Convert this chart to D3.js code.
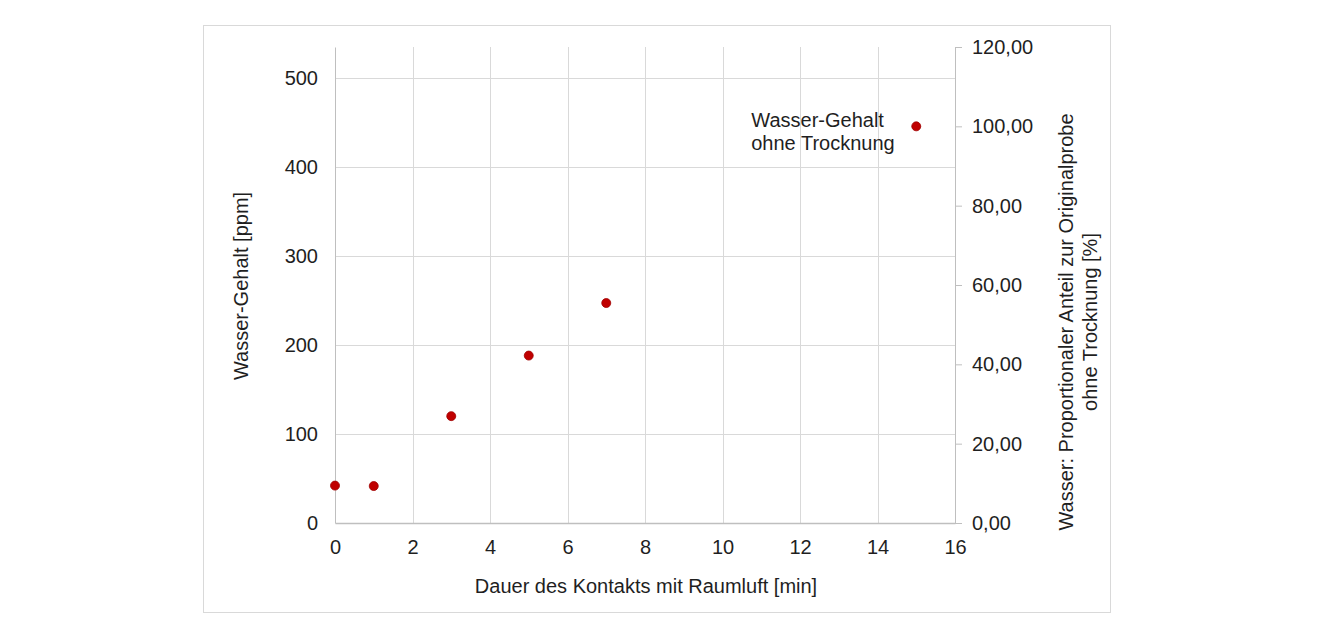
<!DOCTYPE html>
<html>
<head>
<meta charset="utf-8">
<title>Wasser-Gehalt</title>
<script src="https://cdnjs.cloudflare.com/ajax/libs/d3/7.8.5/d3.min.js"></script>
<style>
    * { margin: 0; padding: 0; }
    body { background: #fff; }
    text { font-family: "Liberation Sans", Arial, sans-serif; fill: #1f1f1f; }
</style>
</head>
<body>
<script>
    // data
    var minutes = [0, 1, 3, 5, 7];
    var ppm = [42, 41.5, 120, 188, 247];
    var refMinutes = [15];
    var refPercent = [100];
    var refLabel = ["Wasser-Gehalt", "ohne Trocknung"];
    var xTicks = [0, 2, 4, 6, 8, 10, 12, 14, 16];
    var yLeftTicks = [0, 100, 200, 300, 400, 500];
    var yRightTicks = [0, 20, 40, 60, 80, 100, 120];

    var W = 1320, H = 636;
    var margin = { top: 47, right: 365, bottom: 113, left: 335 },
        width = W - margin.left - margin.right,
        height = H - margin.top - margin.bottom;
    var fs = "20px";

    var svg = d3.select("body").append("svg")
        .attr("width", W)
        .attr("height", H);

    // outer frame
    svg.append("rect")
        .attr("x", 203.5).attr("y", 25.5)
        .attr("width", 907).attr("height", 587)
        .attr("fill", "none")
        .attr("stroke", "#d9d9d9");

    var g = svg.append("g")
        .attr("transform", "translate(" + margin.left + "," + margin.top + ")");

    var x = d3.scaleLinear().domain([0, 16]).range([0, width]);
    var yL = d3.scaleLinear().domain([0, 534.5]).range([height, 0]);
    var yR = d3.scaleLinear().domain([0, 120]).range([height, 0]);

    // gridlines
    g.append("g")
        .selectAll("line")
        .data(yLeftTicks.slice(1))
        .enter().append("line")
        .attr("x1", 0).attr("x2", width)
        .attr("y1", function(d) { return Math.round(yL(d)) + 0.5; })
        .attr("y2", function(d) { return Math.round(yL(d)) + 0.5; })
        .attr("stroke", "#d9d9d9");

    g.append("g")
        .selectAll("line")
        .data(xTicks.slice(1, -1))
        .enter().append("line")
        .attr("y1", 0).attr("y2", height)
        .attr("x1", function(d) { return Math.round(x(d)) + 0.5; })
        .attr("x2", function(d) { return Math.round(x(d)) + 0.5; })
        .attr("stroke", "#d9d9d9");

    // x axis
    var xAxis = g.append("g")
        .attr("transform", "translate(0," + height + ")")
        .call(d3.axisBottom(x).tickValues(xTicks).tickSize(0).tickPadding(17).tickFormat(d3.format("d")));
    xAxis.select(".domain").attr("stroke", "#bfbfbf").attr("stroke-width", 1.5);

    // left y axis
    var yAxisL = g.append("g")
        .call(d3.axisLeft(yL).tickValues(yLeftTicks).tickSize(0).tickPadding(17));
    yAxisL.select(".domain").attr("stroke", "#bfbfbf");

    // right y axis, comma decimals
    var fmtComma = function(d) { return d3.format(".2f")(d).replace(".", ","); };
    var yAxisR = g.append("g")
        .attr("transform", "translate(" + width + ",0)")
        .call(d3.axisRight(yR).tickValues(yRightTicks).tickSizeOuter(0).tickSizeInner(7).tickPadding(10).tickFormat(fmtComma));
    yAxisR.select(".domain").attr("stroke", "#bfbfbf");
    yAxisR.selectAll(".tick line").attr("stroke", "#bfbfbf");

    svg.selectAll(".tick text")
        .style("font-size", fs)
        .attr("fill", "#1f1f1f");

    // points
    g.selectAll(".dot")
        .data(minutes.map(function(m, i) { return { x: m, y: ppm[i] }; }))
        .enter().append("circle")
        .attr("class", "dot")
        .attr("r", 4.5)
        .attr("cx", function(d) { return x(d.x); })
        .attr("cy", function(d) { return yL(d.y); })
        .attr("fill", "#c00000")
        .attr("stroke", "#a00000")
        .attr("stroke-width", 0.8);

    g.selectAll(".ref")
        .data(refMinutes.map(function(m, i) { return { x: m, y: refPercent[i] }; }))
        .enter().append("circle")
        .attr("class", "ref")
        .attr("r", 4.5)
        .attr("cx", function(d) { return x(d.x); })
        .attr("cy", function(d) { return yR(d.y); })
        .attr("fill", "#c00000")
        .attr("stroke", "#a00000")
        .attr("stroke-width", 0.8);

    // label next to reference point
    var lbl = g.append("text")
        .attr("y", yR(refPercent[0]))
        .style("font-size", fs);
    lbl.selectAll("tspan")
        .data(refLabel)
        .enter().append("tspan")
        .attr("x", x(refMinutes[0]) - 165)
        .attr("dy", function(d, i) { return i === 0 ? "1" : "23"; })
        .text(function(d) { return d; });

    // axis titles
    svg.append("text")
        .attr("x", margin.left + width / 2 + 1)
        .attr("y", 593)
        .attr("text-anchor", "middle")
        .style("font-size", fs)
        .text("Dauer des Kontakts mit Raumluft [min]");

    svg.append("text")
        .attr("transform", "translate(248,286) rotate(-90)")
        .attr("text-anchor", "middle")
        .style("font-size", fs)
        .text("Wasser-Gehalt [ppm]");

    var rt = svg.append("text")
        .attr("transform", "translate(1073,322) rotate(-90)")
        .attr("text-anchor", "middle")
        .style("font-size", fs);
    rt.append("tspan").attr("x", 0).attr("dy", 0).text("Wasser: Proportionaler Anteil zur Originalprobe");
    rt.append("tspan").attr("x", 0).attr("dy", 24).text("ohne Trocknung [%]");
</script>
</body>
</html>
